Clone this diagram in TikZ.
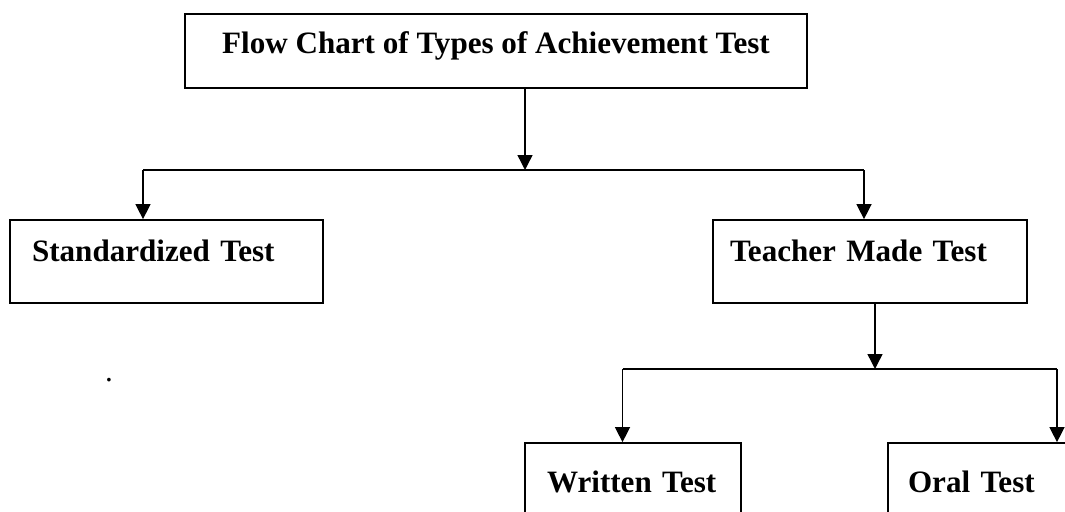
\documentclass[tikz,border=0pt]{standalone}
\usepackage{fontspec}
\setmainfont{Liberation Serif}
\usetikzlibrary{arrows.meta}
\begin{document}
\begin{tikzpicture}[x=0.02cm, y=-0.02cm]
        \tikzset{box/.style={draw, line width=1pt, text height=0.45cm, text depth=0.45cm, font=\fontsize{17.7}{20}\selectfont\bfseries},
                 flow/.style={line width=0.8pt},
                 arrow/.style={flow, -{Triangle[length=0.3cm, width=0.3cm]}}}
        \clip (0, 0) rectangle (1065, 511);
        \node [box, minimum width=12.44cm, minimum height=1.48cm, text height=0.55cm, align=center] (title) at (496, 51) {Flow Chart of Types of Achievement Test};
        \node [box, minimum width=6.26cm, minimum height=1.66cm, inner xsep=0.44cm, text width=5.38cm, align=left] (standard) at (166.5, 261.5) {Standardized Test};
        \node [box, minimum width=6.28cm, minimum height=1.66cm, inner xsep=0.34cm, text width=5.6cm, align=left] (teacher) at (870, 261.5) {Teacher Made Test};
        \node [box, minimum width=4.32cm, minimum height=1.96cm, inner xsep=0.44cm, text width=3.44cm, align=left] (written) at (633, 492) {Written Test};
        \node [box, minimum width=3.84cm, minimum height=1.96cm, inner xsep=0.4cm, text width=3.04cm, align=left] (oral) at (984, 492) {Oral Test};
        \node [font=\fontsize{17.7}{20}\selectfont, anchor=base] (dot) at (109, 381) {.};
        \coordinate (split) at (525, 170);
        \coordinate (splitL) at (143, 170);
        \coordinate (splitR) at (864, 170);
        \draw[arrow] (title.south -| split) -- (split);
        \draw[flow] (splitL) -- (splitR);
        \draw[arrow] (splitL) -- (splitL |- standard.north);
        \draw[arrow] (splitR) -- (splitR |- teacher.north);
        \coordinate (branch) at (875, 369);
        \coordinate (branchL) at (622.5, 369);
        \coordinate (branchR) at (1057, 369);
        \draw[arrow] (teacher.south -| branch) -- (branch);
        \draw[flow] (branchL) -- (branchR);
        \draw[arrow] (branchL) -- (branchL |- written.north);
        \draw[arrow] (branchR) -- (branchR |- oral.north);
\end{tikzpicture}
\end{document}
